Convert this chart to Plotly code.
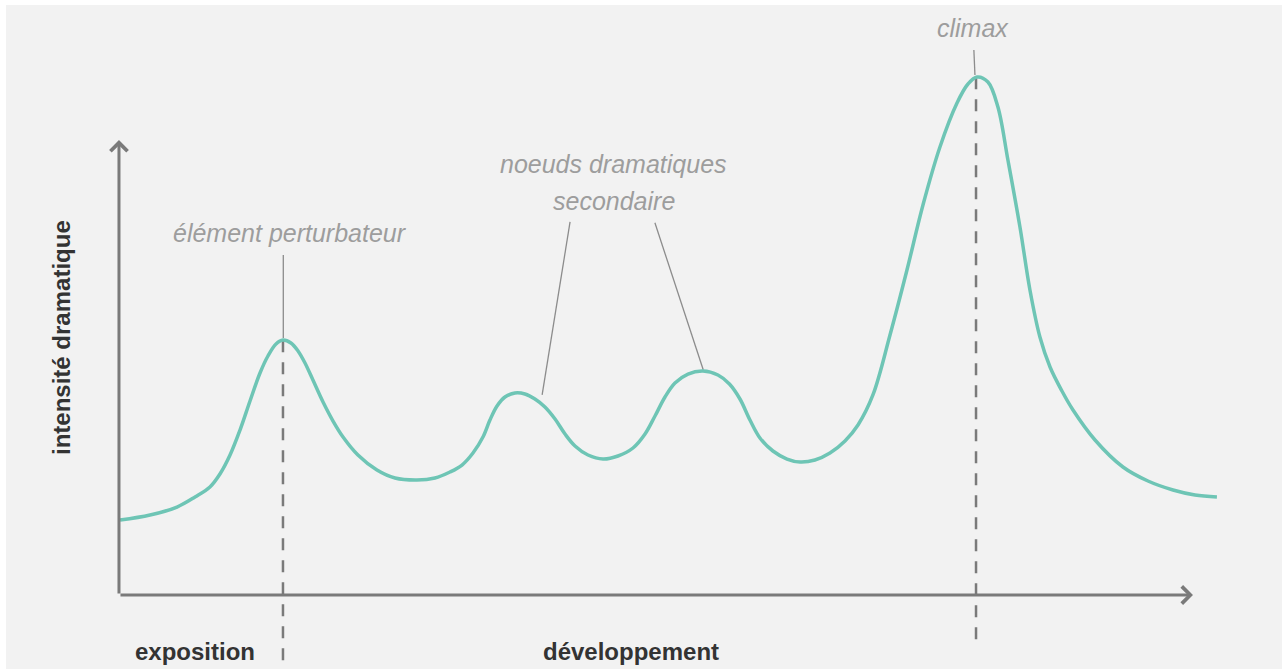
import plotly.graph_objects as go

# Narrative time (0-100 along the x arrow) and dramatic intensity (0-100 along the y arrow)
time = [0.1, 2.89, 5.40, 7.08, 8.47, 9.40, 10.34, 11.27, 12.20, 13.13,
        13.87, 14.62, 15.27, 16.01, 16.67, 17.32, 18.06, 19.00, 19.93, 20.86,
        22.25, 24.02, 25.70, 27.75, 29.42, 30.82, 31.94, 32.96, 33.89, 34.54,
        35.20, 35.94, 36.87, 37.80, 38.73, 39.66, 40.60, 41.53, 42.46, 43.67,
        45.07, 46.46, 47.86, 48.98, 49.91, 50.84, 51.77, 52.98, 54.38, 55.77,
        56.84, 57.82, 58.75, 59.68, 60.89, 62.20, 63.41, 64.80, 66.20, 67.60,
        68.81, 70.20, 71.79, 73.37, 74.86, 76.44, 78.03, 79.05, 79.89, 80.91,
        81.84, 82.77, 83.89, 84.82, 85.75, 86.69, 87.80, 88.83, 90.88, 93.48,
        95.81, 98.14, 100.19, 102.23]
intensity = [16.48, 17.58, 19.34, 21.54, 23.74, 26.59, 30.77, 36.26, 42.64, 48.79,
             52.53, 55.16, 56.04, 55.38, 53.63, 50.99, 47.25, 42.42, 38.24, 34.73,
             30.77, 27.47, 25.71, 25.27, 25.71, 27.03, 28.57, 31.21, 34.73, 38.46,
             41.54, 43.52, 44.40, 44.18, 43.08, 41.32, 38.68, 35.38, 32.75, 30.77,
             29.89, 30.55, 32.31, 35.38, 39.34, 43.52, 46.59, 48.57, 49.23, 48.35,
             46.37, 43.08, 38.46, 34.51, 31.65, 29.89, 29.23, 29.67, 31.21, 33.85,
             37.36, 43.96, 57.14, 71.43, 85.71, 98.46, 108.13, 112.31, 113.85, 112.75,
             107.25, 95.60, 80.88, 67.03, 56.70, 50.11, 44.84, 40.66, 34.07, 28.13,
             25.05, 23.08, 21.98, 21.54]

# key moments
peak_times = [15.27, 79.8]          # élément perturbateur, climax
peak_values = [56.0, 113.8]
dash_bottoms = [-16.3, -10.5]

phase_labels = ["exposition", "développement"]
phase_times = [7.1, 47.7]

y_label = "intensité dramatique"

AXIS = "#7a7a7a"
LEAD = "#8c8c8c"
LABEL = "#9d9d9d"
DARK = "#333333"
CURVE = "#6ec5b5"

fig = go.Figure()

# dashed verticals at the key peaks
for t, v, b in zip(peak_times, peak_values, dash_bottoms):
    fig.add_trace(go.Scatter(x=[t, t], y=[v, b], mode="lines",
                             line=dict(color=AXIS, width=2.5, dash="12px,10px"),
                             hoverinfo="skip", showlegend=False))

# leader lines
leaders = [
    ([15.3, 15.3], [74.7, 56.5]),
    ([42.0, 39.4], [82.0, 44.0]),
    ([49.9, 54.4], [81.8, 49.5]),
    ([79.6, 79.7], [119.8, 114.3]),
]
for lx, ly in leaders:
    fig.add_trace(go.Scatter(x=lx, y=ly, mode="lines",
                             line=dict(color=LEAD, width=1.3),
                             hoverinfo="skip", showlegend=False))

# dramatic curve
fig.add_trace(go.Scatter(x=time, y=intensity, mode="lines",
                         line=dict(color=CURVE, width=3.5, shape="spline", smoothing=1.0),
                         hoverinfo="skip", showlegend=False))

# axes with chevron arrows
for (tx, ty) in [(0, 100), (100, 0)]:
    fig.add_annotation(x=tx, y=ty, ax=0, ay=0, xref="x", yref="y", axref="x", ayref="y",
                       text="", showarrow=True, arrowhead=4, arrowsize=1.1,
                       arrowwidth=3, arrowcolor=AXIS, standoff=0)

italic = dict(family="Liberation Sans, Arial, sans-serif", size=25, color=LABEL, style="italic")
bold = dict(family="Liberation Sans, Arial, sans-serif", size=24, color=DARK, weight="bold")

fig.add_annotation(x=15.9, y=79.6, text="élément perturbateur", showarrow=False, font=italic)
fig.add_annotation(x=46.0, y=94.7, text="noeuds dramatiques", showarrow=False, font=italic)
fig.add_annotation(x=46.1, y=86.6, text="secondaire", showarrow=False, font=italic)
fig.add_annotation(x=79.5, y=124.6, text="climax", showarrow=False, font=italic)

for lab, t in zip(phase_labels, phase_times):
    fig.add_annotation(x=t, y=-12.4, text=lab, showarrow=False, font=bold)

fig.add_annotation(x=-5.3, y=56.5, text=y_label, textangle=-90, showarrow=False, font=bold)

fig.update_layout(
    width=1282, height=669,
    margin=dict(l=6, r=0, t=5, b=0),
    paper_bgcolor="#ffffff", plot_bgcolor="#f2f2f2",
    xaxis=dict(range=[-10.52, 108.29], visible=False, fixedrange=True),
    yaxis=dict(range=[-16.26, 129.67], visible=False, fixedrange=True),
    showlegend=False,
)

fig.write_html("out.html", config={"displayModeBar": False},
               post_script="document.body.style.margin='0';")
